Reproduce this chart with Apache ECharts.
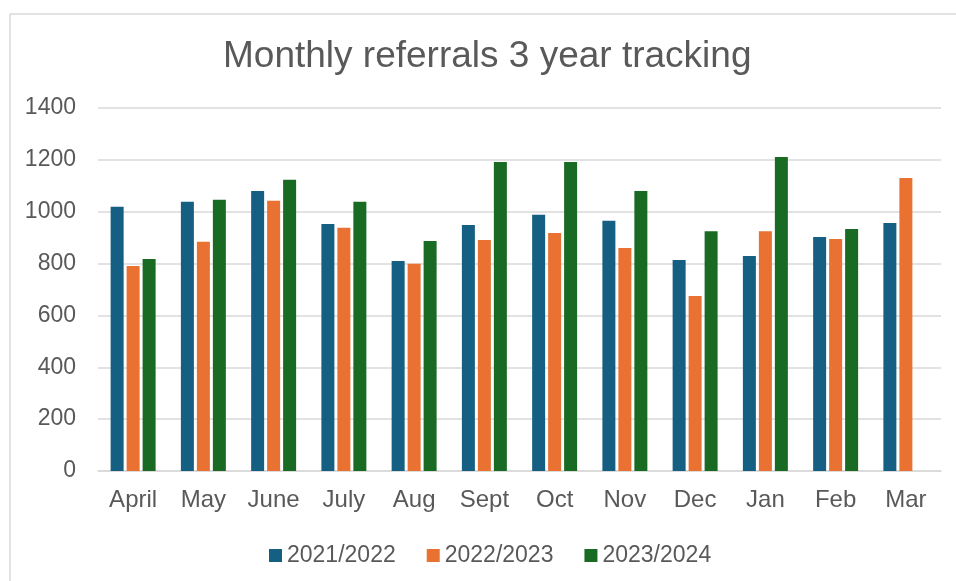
<!DOCTYPE html>
<html>
<head>
<meta charset="utf-8">
<script src="https://cdn.jsdelivr.net/npm/echarts@6/dist/echarts.min.js"></script>
<style>
  html, body { margin: 0; padding: 0; background: #fff; }
  #main { width: 956px; height: 581px; }
</style>
</head>
<body>
<div id="main"></div>
<script>
// months and referral counts per financial year
var months = ['April', 'May', 'June', 'July', 'Aug', 'Sept', 'Oct', 'Nov', 'Dec', 'Jan', 'Feb', 'Mar'];
var years = ['2021/2022', '2022/2023', '2023/2024'];
var refs2122 = [1019, 1038, 1080, 953, 810, 949, 988, 965, 814, 829, 902, 956];
var refs2223 = [791, 884, 1042, 938, 799, 891, 918, 860, 675, 925, 895, 1130];
var refs2324 = [818, 1046, 1123, 1038, 887, 1192, 1192, 1080, 925, 1211, 933, null];

var colors = ['#156082', '#E97132', '#196B24'];
var font = 'Liberation Sans, Arial, sans-serif';

var myChart = echarts.init(document.getElementById('main'));

function barSeries(name, data) {
  return {
    name: name,
    type: 'bar',
    data: data,
    barWidth: 13,
    barGap: '23%'
  };
}

myChart.setOption({
  color: colors,
  animation: false,
  graphic: [{
    type: 'rect',
    shape: { x: 10, y: 14, width: 1000, height: 700 },
    style: { fill: 'none', stroke: '#d9d9d9', lineWidth: 1.5 },
    silent: true
  }],
  title: {
    text: 'Monthly referrals 3 year tracking',
    left: 218,
    top: 33,
    textStyle: { fontFamily: font, fontSize: 37, fontWeight: 'normal', color: '#595959' }
  },
  legend: {
    data: years,
    left: 264,
    top: 539,
    icon: 'rect',
    itemWidth: 13,
    itemHeight: 13,
    itemGap: 31,
    textStyle: { fontFamily: font, fontSize: 23, color: '#595959' }
  },
  grid: { left: 98, right: 15, top: 108, bottom: 110 },
  xAxis: {
    type: 'category',
    data: months,
    axisLine: { lineStyle: { color: '#d9d9d9', width: 1.5 } },
    axisTick: { show: false },
    axisLabel: { fontFamily: font, fontSize: 24, color: '#595959', margin: 17 }
  },
  yAxis: {
    type: 'value',
    min: 0,
    max: 1400,
    interval: 200,
    axisLine: { show: false },
    axisTick: { show: false },
    splitLine: { lineStyle: { color: '#d9d9d9', width: 1.5 } },
    axisLabel: {
      fontFamily: font, fontSize: 23, color: '#595959', margin: 22,
      formatter: function (v) { return String(v); }
    }
  },
  series: [
    barSeries(years[0], refs2122),
    barSeries(years[1], refs2223),
    barSeries(years[2], refs2324)
  ]
});
</script>
</body>
</html>
